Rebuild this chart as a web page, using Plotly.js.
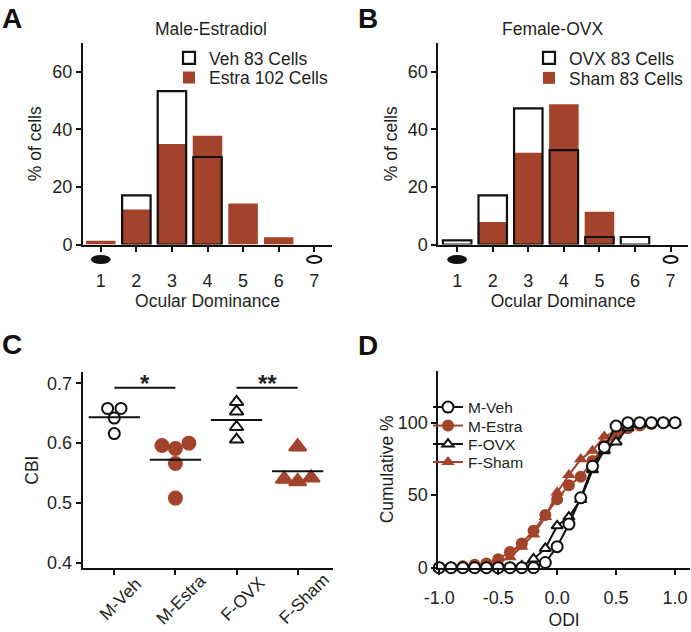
<!DOCTYPE html>
<html><head><meta charset="utf-8">
<script src="https://cdn.plot.ly/plotly-3.0.1.min.js"></script>
<style>html,body{margin:0;padding:0;background:#fff}#chart{width:691px;height:632px}</style>
</head><body><div id="chart"></div>
<script>
// ---------- Panel A: Male-Estradiol ocular dominance histogram ----------
const odBins = [1, 2, 3, 4, 5, 6, 7];
const odTickText = ['1', '2', '3', '4', '5', '6', '7'];
const maleVehPct = [0, 17.1, 53.3, 30.4, 0, 0, 0];
const maleEstraPct = [1.3, 12.2, 34.9, 37.8, 14.2, 2.5, 0];
const maleVehName = 'Veh 83 Cells';
const maleEstraName = 'Estra 102 Cells';
// ---------- Panel B: Female-OVX ocular dominance histogram ----------
const femOvxPct = [1.4, 17.1, 47.3, 32.8, 2.6, 2.6, 0];
const femShamPct = [0, 7.8, 31.9, 48.7, 11.4, 0, 0];
const femOvxName = 'OVX 83 Cells';
const femShamName = 'Sham 83 Cells';
// ---------- Panel C: CBI per animal ----------
const cbiGroups = ['M-Veh', 'M-Estra', 'F-OVX', 'F-Sham'];
const cbiMVeh = [0.658, 0.658, 0.642, 0.616];
const cbiMEstra = [0.596, 0.591, 0.600, 0.566, 0.508];
const cbiFOvx = [0.669, 0.653, 0.627, 0.606];
const cbiFSham = [0.594, 0.540, 0.536, 0.542];
const cbiTicks = [0.4, 0.5, 0.6, 0.7];
// ---------- Panel D: cumulative ODI ----------
const odiBins = [-1.0, -0.9, -0.8, -0.7, -0.6, -0.5, -0.4, -0.3, -0.2, -0.1, 0.0,
                 0.1, 0.2, 0.3, 0.4, 0.5, 0.6, 0.7, 0.8, 0.9, 1.0];
const cumMVeh   = [0, 0, 0, 0, 0, 0, 0, 0, 0, 3.6, 14.5, 30.1, 48.2, 69.9, 83.1, 97.6, 100, 100, 100, 100, 100];
const cumMEstra = [0, 0, 1.0, 2.0, 2.9, 5.9, 10.8, 16.7, 25.5, 36.3, 47.1, 56.9, 62.7, 73.5, 84.3, 91.2, 96.1, 98.0, 99.0, 100, 100];
const cumFOvx   = [0, 0, 0, 0, 0, 0, 0, 1.2, 6.0, 13.3, 28.9, 34.9, 47.0, 67.5, 80.7, 86.7, 96.4, 98.8, 100, 100, 100];
const cumFSham  = [0, 0, 1.2, 1.2, 2.4, 3.6, 7.2, 14.5, 22.9, 34.9, 51.8, 63.9, 74.7, 80.7, 90.4, 94.0, 96.4, 98.8, 100, 100, 100];
const odiTickVals = [-1.0, -0.5, 0.0, 0.5, 1.0];
const odiTickText = ['-1.0', '-0.5', '0.0', '0.5', '1.0'];
const cumTicks = [0, 50, 100];

// ---------- styling ----------
const RED = '#A3432B';
const INK = '#231F20';
const FONT = 'Arial, "Liberation Sans", Helvetica, sans-serif';
const W = 691, H = 632;
const px = v => v / W;
const py = v => 1 - v / H;
const nz = a => a.map(v => (v === 0 ? null : v)); // empty bins draw nothing

// simple symmetric beeswarm: near-equal values share a row, centred on the category
function swarm(vals, tol, step) {
  const idx = vals.map((v, i) => i).sort((a, b) => vals[b] - vals[a]);
  const off = new Array(vals.length).fill(0);
  let rows = [], cur = [];
  idx.forEach(i => {
    if (cur.length && vals[cur[0]] - vals[i] >= tol) { rows.push(cur); cur = []; }
    cur.push(i);
  });
  if (cur.length) rows.push(cur);
  rows.forEach(r => {
    r.sort((a, b) => a - b);
    r.forEach((i, k) => { off[i] = (k - (r.length - 1) / 2) * step; });
  });
  return off;
}
const mean = a => a.reduce((s, v) => s + v, 0) / a.length;

const traces = [];
// Panel A bars
traces.push({type: 'bar', x: odBins, y: nz(maleEstraPct), name: maleEstraName, width: 0.83,
  marker: {color: RED, line: {width: 0}}, xaxis: 'x', yaxis: 'y', legend: 'legend2'});
traces.push({type: 'bar', x: odBins, y: nz(maleVehPct), name: maleVehName, width: 0.8,
  marker: {color: 'rgba(0,0,0,0)', line: {color: '#111', width: 2.2}}, xaxis: 'x', yaxis: 'y', legend: 'legend'});
// Panel B bars
traces.push({type: 'bar', x: odBins, y: nz(femShamPct), name: femShamName, width: 0.83,
  marker: {color: RED, line: {width: 0}}, xaxis: 'x2', yaxis: 'y2', legend: 'legend4'});
traces.push({type: 'bar', x: odBins, y: nz(femOvxPct), name: femOvxName, width: 0.8,
  marker: {color: 'rgba(0,0,0,0)', line: {color: '#111', width: 2.2}}, xaxis: 'x2', yaxis: 'y2', legend: 'legend3'});

// Panel C scatter
const cbiSets = [
  {vals: cbiMVeh, sym: 'circle-open', size: 11, color: '#111'},
  {vals: cbiMEstra, sym: 'circle', size: 13, color: RED},
  {vals: cbiFOvx, sym: 'triangle-up-open', size: 12, color: '#111'},
  {vals: cbiFSham, sym: 'triangle-up', size: 15, color: RED}
];
cbiSets.forEach((s, g) => {
  const off = swarm(s.vals, 0.012, 0.22);
  traces.push({type: 'scatter', mode: 'markers', x: s.vals.map((v, i) => g + off[i]), y: s.vals,
    marker: {symbol: s.sym, size: s.size, color: s.color, line: {color: s.color, width: 2}},
    xaxis: 'x3', yaxis: 'y3', showlegend: false, cliponaxis: false, hoverinfo: 'y'});
  const m = mean(s.vals);
  traces.push({type: 'scatter', mode: 'lines', x: [g - 0.42, g + 0.42], y: [m, m],
    line: {color: '#111', width: 2}, xaxis: 'x3', yaxis: 'y3', showlegend: false, hoverinfo: 'skip'});
});

// Panel D cumulative curves (drawn bottom to top), one legend box per entry
const dSets = [
  {name: 'F-Sham', y: cumFSham, sym: 'triangle-up', size: 12, fill: RED, col: RED, leg: 'legend8'},
  {name: 'M-Estra', y: cumMEstra, sym: 'circle', size: 12, fill: RED, col: RED, leg: 'legend6'},
  {name: 'F-OVX', y: cumFOvx, sym: 'triangle-up', size: 10, fill: '#fff', col: '#111', leg: 'legend7'},
  {name: 'M-Veh', y: cumMVeh, sym: 'circle', size: 11, fill: '#fff', col: '#111', leg: 'legend5'}
];
dSets.forEach(s => {
  traces.push({type: 'scatter', mode: 'lines+markers', x: odiBins, y: s.y, name: s.name,
    line: {color: s.col, width: 2},
    marker: {symbol: s.sym, size: s.size, color: s.fill, line: {color: s.col, width: s.fill === RED ? 0 : 2}},
    xaxis: 'x4', yaxis: 'y4', legend: s.leg, cliponaxis: false});
});

const axBase = {showline: true, linecolor: '#111', linewidth: 2, ticks: 'outside', ticklen: 5,
  tickwidth: 2, tickcolor: '#111', showgrid: false, zeroline: false,
  tickfont: {family: FONT, size: 18, color: INK}, fixedrange: true};
const ttl = (t, st) => ({text: t, font: {family: FONT, size: 17.5, color: INK}, standoff: st});
const leg = (x, y, size) => ({x: px(x), y: py(y), xanchor: 'left', yanchor: 'middle', bgcolor: 'rgba(0,0,0,0)',
  font: {family: FONT, size: size, color: INK}, tracegroupgap: 0, borderwidth: 0});

const rA = [0.5, 7.5], rB = [0.47, 7.49];
const layout = {
  width: W, height: H, margin: {l: 0, r: 0, t: 0, b: 0},
  paper_bgcolor: '#fff', plot_bgcolor: 'rgba(0,0,0,0)',
  font: {family: FONT, color: INK}, barmode: 'overlay', showlegend: true,
  xaxis: Object.assign({}, axBase, {domain: [px(83), px(332)], range: rA, anchor: 'y',
    tickvals: odBins, ticktext: odTickText, ticklabelstandoff: 14, title: ttl('Ocular Dominance', 2)}),
  yaxis: Object.assign({}, axBase, {domain: [py(244.5), py(43)], range: [0, 70], anchor: 'x',
    tickvals: [0, 20, 40, 60], title: ttl('% of cells', 6)}),
  xaxis2: Object.assign({}, axBase, {domain: [px(438.3), px(688)], range: rB, anchor: 'y2',
    tickvals: odBins, ticktext: odTickText, ticklabelstandoff: 14, title: ttl('Ocular Dominance', 2)}),
  yaxis2: Object.assign({}, axBase, {domain: [py(244.5), py(43)], range: [0, 70], anchor: 'x2',
    tickvals: [0, 20, 40, 60], title: ttl('% of cells', 6)}),
  xaxis3: Object.assign({}, axBase, {domain: [px(82.7), px(333)], range: [-0.517, 3.578], anchor: 'y3',
    tickvals: [0, 1, 2, 3], showticklabels: false}),
  yaxis3: Object.assign({}, axBase, {domain: [py(568.3), py(372)], range: [0.3906, 0.719], anchor: 'x3',
    tickvals: cbiTicks, tickformat: '.1f', title: ttl('CBI', 4)}),
  xaxis4: Object.assign({}, axBase, {domain: [px(438.3), px(690)], range: [-1.008, 1.127], anchor: 'y4',
    tickvals: odiTickVals, ticktext: odiTickText, ticklabelstandoff: 8, title: ttl('ODI', 6)}),
  yaxis4: Object.assign({}, axBase, {domain: [py(567.7), py(371)], range: [0, 135.6], anchor: 'x4',
    tickvals: cumTicks, title: ttl('Cumulative %', 0)}),
  legend: leg(169, 58, 17.5),
  legend2: leg(169, 77.5, 17.5),
  legend3: leg(529, 58, 17.5),
  legend4: leg(529, 78, 17.5),
  legend5: leg(428, 407.5, 15.5),
  legend6: leg(428, 426, 15.5),
  legend7: leg(428, 444.5, 15.5),
  legend8: leg(428, 462.5, 15.5),
  shapes: [], annotations: []
};

// eye icons under OD axes (contralateral filled at 1, ipsilateral open at 7)
function eyeShapes(xref, yref, r) {
  const f = v => (v - r[0]) / (r[1] - r[0]);
  const dh = 244.5 - 43;
  return [
    {type: 'circle', xref: xref + ' domain', yref: yref + ' domain', x0: f(odBins[0] - 0.28), x1: f(odBins[0] + 0.28),
      y0: -10.5 / dh, y1: -19.5 / dh, fillcolor: '#111', line: {width: 0}},
    {type: 'circle', xref: xref + ' domain', yref: yref + ' domain', x0: f(odBins[6] - 0.2), x1: f(odBins[6] + 0.2),
      y0: -11.5 / dh, y1: -18.5 / dh, fillcolor: 'rgba(0,0,0,0)', line: {color: '#111', width: 2}}
  ];
}
layout.shapes.push(...eyeShapes('x', 'y', rA), ...eyeShapes('x2', 'y2', rB));
// significance brackets in C
const sigY = 0.6927;
layout.shapes.push({type: 'line', xref: 'x3', yref: 'y3', x0: 0, x1: 1, y0: sigY, y1: sigY, line: {color: '#111', width: 2}});
layout.shapes.push({type: 'line', xref: 'x3', yref: 'y3', x0: 2, x1: 3, y0: sigY, y1: sigY, line: {color: '#111', width: 2}});
layout.annotations.push({xref: 'x3', yref: 'y3', x: 0.5, y: sigY, text: '<b>*</b>', showarrow: false,
  yanchor: 'bottom', yshift: -11, font: {family: FONT, size: 24, color: INK}});
layout.annotations.push({xref: 'x3', yref: 'y3', x: 2.5, y: sigY, text: '<b>**</b>', showarrow: false,
  yanchor: 'bottom', yshift: -11, font: {family: FONT, size: 24, color: INK}});
// rotated category labels in C
cbiGroups.forEach((g, i) => {
  layout.annotations.push({xref: 'x3', yref: 'paper', x: i, y: py(599), xshift: 6, text: g, textangle: -45,
    showarrow: false, xanchor: 'center', yanchor: 'middle', font: {family: FONT, size: 17.5, color: INK}});
});
// panel titles
layout.annotations.push({xref: 'paper', yref: 'paper', x: px(210.5), y: py(29), text: 'Male-Estradiol', showarrow: false,
  xanchor: 'center', yanchor: 'middle', font: {family: FONT, size: 17.5, color: INK}});
layout.annotations.push({xref: 'paper', yref: 'paper', x: px(552), y: py(29), text: 'Female-OVX', showarrow: false,
  xanchor: 'center', yanchor: 'middle', font: {family: FONT, size: 17.5, color: INK}});
// panel letters
[['A', 0, 18], ['B', 356, 18], ['C', 0, 344], ['D', 356, 345]].forEach(([t, x, y]) => {
  layout.annotations.push({xref: 'paper', yref: 'paper', x: px(x), y: py(y), text: '<b>' + t + '</b>', showarrow: false,
    xanchor: 'left', yanchor: 'middle', font: {family: FONT, size: 28, color: '#111'}});
});

Plotly.newPlot('chart', traces, layout, {staticPlot: true, displayModeBar: false});
</script></body></html>
